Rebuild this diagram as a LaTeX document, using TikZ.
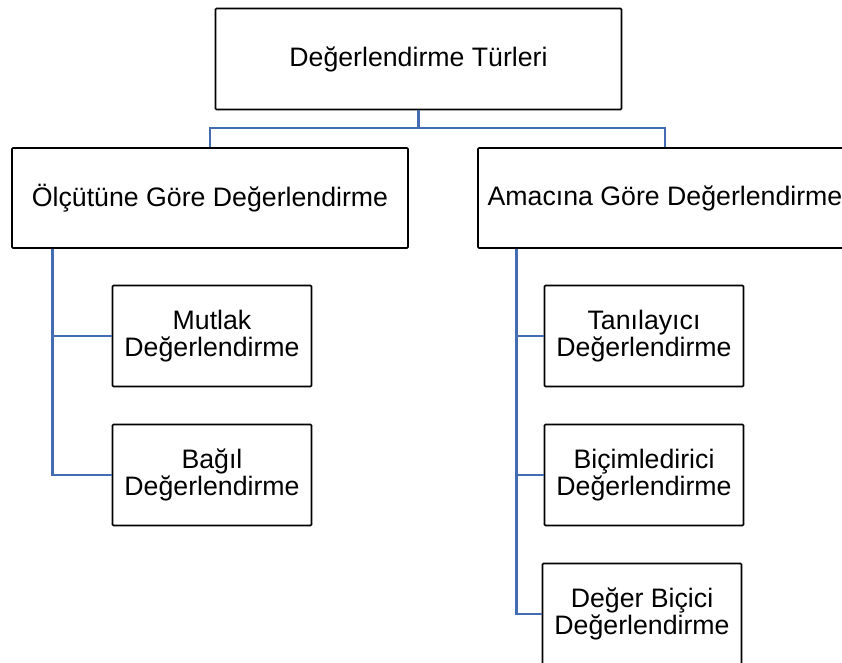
\documentclass[tikz,border=0pt]{standalone}
\usepackage{fontspec}
\setmainfont{Liberation Sans}
\usepackage{tikz}

\definecolor{linkblue}{RGB}{68,108,178}

\begin{document}
\begin{tikzpicture}[x=1pt,y=-1pt,
        box/.style={draw=black, line width=1.7pt, rounded corners=1pt, fill=white,
            inner sep=0pt, align=center,
            font=\fontsize{26.7}{27.5}\selectfont},
        bigbox/.style={box, minimum width=406pt, minimum height=101pt},
        midbox/.style={box, minimum width=396pt, minimum height=100pt},
        smallbox/.style={box, minimum width=199pt, minimum height=101pt},
        link/.style={draw=linkblue, line width=2.8pt}]
    \useasboundingbox (0,0) rectangle (842,662);
    \clip (0,0) rectangle (842,662);
    % level 0
    \node [bigbox] (root) at (418.5,59) {Değerlendirme Türleri};
    % level 1
    \node [midbox] (olcut) at (210,198) {Ölçütüne Göre Değerlendirme};
    \node [midbox, minimum width=374pt] (amac) at (665,198) {Amacına Göre Değerlendirme};
    % level 2, left
    \node [smallbox] (mutlak) at (212,336) {Mutlak\\Değerlendirme};
    \node [smallbox] (bagil) at (212,475) {Bağıl\\Değerlendirme};
    % level 2, right
    \node [smallbox] (tani) at (644,336) {Tanılayıcı\\Değerlendirme};
    \node [smallbox] (bicim) at (644,475) {Biçimledirici\\Değerlendirme};
    \node [smallbox] (deger) at (642,614) {Değer Biçici\\Değerlendirme};
    % connectors
    \coordinate (fork) at (root.south |- 0,128);
    \path [link] (root.south) -- (fork);
    \path [link] (olcut.north) |- (fork) -| (amac.north);
    \coordinate (lspine) at ([xshift=41pt]olcut.south west);
    \coordinate (rspine) at ([xshift=39pt]amac.south west);
    \path [link] (lspine) |- (mutlak.west);
    \path [link] (lspine) |- (bagil.west);
    \path [link] (rspine) |- (tani.west);
    \path [link] (rspine) |- (bicim.west);
    \path [link] (rspine) |- (deger.west);
\end{tikzpicture}
\end{document}
